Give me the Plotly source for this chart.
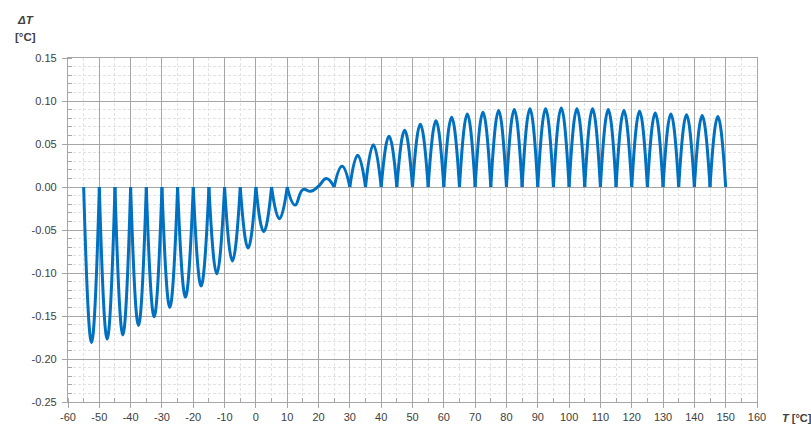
import plotly.graph_objects as go

# Knot temperatures (°C) and ΔT at knots (°C)
knot_T = [-55, -50, -45, -40, -35, -30, -25, -20, -15, -10, -5, 0, 5, 10, 15, 20, 25,
          30, 35, 40, 45, 50, 55, 60, 65, 70, 75, 80, 85, 90, 95, 100, 105, 110, 115,
          120, 125, 130, 135, 140, 145, 150]
knot_dT = [0, 0, 0, 0, 0, 0, 0, 0, 0, 0, 0, 0, 0, 0, -0.003, 0.001, 0,
           0, 0, 0, 0, 0, 0, 0, 0, 0, 0, 0, 0, 0, 0, 0, 0, 0, 0,
           0, 0, 0, 0, 0, 0, 0]

# Mid-interval temperatures and ΔT extremes (°C)
mid_T = [-52.5, -47.5, -42.5, -37.5, -32.5, -27.5, -22.5, -17.5, -12.5, -7.5, -2.5,
         2.5, 7.5, 12.5, 17.5, 22.5, 27.5, 32.5, 37.5, 42.5, 47.5, 52.5, 57.5, 62.5,
         67.5, 72.5, 77.5, 82.5, 87.5, 92.5, 97.5, 102.5, 107.5, 112.5, 117.5, 122.5,
         127.5, 132.5, 137.5, 142.5, 147.5]
mid_dT = [-0.181, -0.177, -0.172, -0.161, -0.151, -0.140, -0.128, -0.115, -0.101, -0.086,
          -0.071, -0.052, -0.037, -0.021, -0.005, 0.010, 0.024, 0.037, 0.049, 0.059,
          0.066, 0.073, 0.077, 0.081, 0.085, 0.087, 0.089, 0.090, 0.091, 0.091, 0.092,
          0.091, 0.091, 0.090, 0.089, 0.088, 0.086, 0.085, 0.084, 0.083, 0.082]

x_tick_vals = list(range(-60, 161, 10))
y_tick_vals = [0.15, 0.10, 0.05, 0.00, -0.05, -0.10, -0.15, -0.20, -0.25]

# build path: separate spline arches at knots where ΔT is zero (cusps)
xs, ys = [knot_T[0]], [knot_dT[0]]
for k in range(len(mid_T)):
    xs += [mid_T[k], knot_T[k + 1]]
    ys += [mid_dT[k], knot_dT[k + 1]]
    if k + 1 < len(knot_T) - 1 and knot_dT[k + 1] == 0:
        xs += [None, knot_T[k + 1]]
        ys += [None, knot_dT[k + 1]]

LINE_BLUE = "#0070C0"
MAJ = "#a6a6a6"
MIN = "#e2e2e2"
FONT = "Liberation Sans"

fig = go.Figure()
fig.add_trace(go.Scatter(
    x=xs, y=ys, mode="lines", connectgaps=False,
    line=dict(color=LINE_BLUE, width=3, shape="spline", smoothing=1.3),
    hoverinfo="skip", showlegend=False,
))

axis_common = dict(
    showgrid=True, gridcolor=MAJ, gridwidth=1.3,
    showline=True, linecolor=MAJ, linewidth=1.3, mirror=True,
    ticks="outside", ticklen=5, tickcolor=MAJ, tickwidth=1.3,
    zeroline=False, automargin=False,
    tickfont=dict(family=FONT, size=11, color="#404040"),
)

fig.update_xaxes(
    range=[-60, 160], tickmode="array", tickvals=x_tick_vals,
    ticktext=[str(v) for v in x_tick_vals], ticklabelstandoff=0,
    minor=dict(dtick=5, tick0=-60, showgrid=True, gridcolor=MIN, griddash="3px,2px",
               gridwidth=1, ticks="inside", ticklen=4, tickcolor=MAJ),
    **axis_common,
)
fig.update_yaxes(
    range=[-0.25, 0.15], tickmode="array", tickvals=y_tick_vals,
    ticktext=[f"{v:.2f}" for v in y_tick_vals], ticklabelstandoff=3,
    minor=dict(dtick=0.01, tick0=0, showgrid=True, gridcolor=MIN, griddash="3px,2px",
               gridwidth=1, ticks="inside", ticklen=4, tickcolor=MAJ),
    **axis_common,
)

fig.add_annotation(text="<b><i>ΔT</i></b>", xref="paper", yref="paper",
                   x=-0.062, y=1.11, xanchor="center", yanchor="middle", showarrow=False,
                   font=dict(family=FONT, size=11.5, color="#404040"))
fig.add_annotation(text="<b>[°C]</b>", xref="paper", yref="paper",
                   x=-0.062, y=1.061, xanchor="center", yanchor="middle", showarrow=False,
                   font=dict(family=FONT, size=11.5, color="#404040"))
fig.add_annotation(text="<b><i>T</i> [°C]</b>", xref="paper", yref="paper",
                   x=1.058, y=-0.046, xanchor="center", yanchor="middle", showarrow=False,
                   font=dict(family=FONT, size=11, color="#404040"))

fig.update_layout(
    width=811, height=425,
    margin=dict(l=68, r=54, t=58, b=23),
    paper_bgcolor="white", plot_bgcolor="white",
)

fig.write_html("out.html")
